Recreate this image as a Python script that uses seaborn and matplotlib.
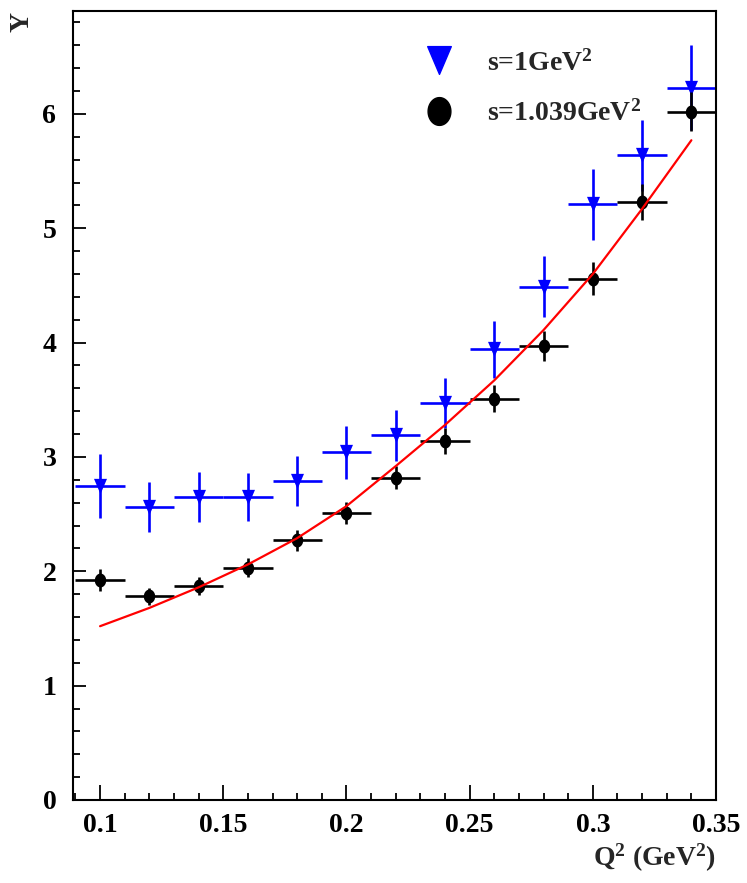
import numpy as np
import matplotlib
matplotlib.use("Agg")
import matplotlib.pyplot as plt
import seaborn as sns
from matplotlib.path import Path
from matplotlib.lines import Line2D
from matplotlib.ticker import MultipleLocator, FuncFormatter

# Q^2 bin centres (GeV^2); each bin is 0.02 wide
q2 = [0.10, 0.12, 0.14, 0.16, 0.18, 0.20, 0.22, 0.24, 0.26, 0.28, 0.30, 0.32, 0.34]
bin_half_width = 0.01

# s = 1 GeV^2
y_s1 = [2.75, 2.56, 2.65, 2.65, 2.79, 3.04, 3.19, 3.47, 3.94, 4.49, 5.21, 5.64, 6.23]
err_s1 = [0.28, 0.22, 0.22, 0.21, 0.215, 0.23, 0.225, 0.22, 0.25, 0.27, 0.31, 0.31, 0.37]

# s = 1.039 GeV^2
y_s2 = [1.925, 1.78, 1.87, 2.03, 2.27, 2.51, 2.82, 3.14, 3.51, 3.97, 4.56, 5.23, 6.02]
err_s2 = [0.093, 0.075, 0.08, 0.083, 0.09, 0.095, 0.10, 0.11, 0.12, 0.13, 0.146, 0.16, 0.17]

# fitted curve through the s = 1.039 GeV^2 data
fit_q2 = [0.10, 0.12, 0.14, 0.16, 0.18, 0.20, 0.22, 0.24, 0.26, 0.28, 0.30, 0.32, 0.34]
fit_y = [1.52, 1.68, 1.86, 2.06, 2.29, 2.57, 2.92, 3.28, 3.67, 4.11, 4.60, 5.17, 5.77]

labels = [r"s=1GeV$^{2}$", r"s=1.039GeV$^{2}$"]
x_ticks = [0.10, 0.15, 0.20, 0.25, 0.30, 0.35]
y_ticks = [0, 1, 2, 3, 4, 5, 6]

sns.set_theme(style="ticks")
plt.rcParams["font.family"] = ["Liberation Serif", "DejaVu Serif"]
plt.rcParams["font.weight"] = "bold"
plt.rcParams["mathtext.fontset"] = "custom"
plt.rcParams["mathtext.rm"] = "Liberation Serif:bold"
plt.rcParams["mathtext.it"] = "Liberation Serif:italic:bold"
plt.rcParams["mathtext.bf"] = "Liberation Serif:bold"

# slightly tall marker shapes
theta = np.linspace(0, 2 * np.pi, 64)
ellipse = Path(np.column_stack([0.82 * np.cos(theta), np.sin(theta)]), closed=True)
tri_down = Path([(-0.85, 1.0), (0.85, 1.0), (0.0, -1.0), (-0.85, 1.0)], closed=True)

FS = 20
fig = plt.figure(figsize=(7.47, 8.83), dpi=100)
ax = fig.add_axes([0.0977, 0.094, 0.8608, 0.8935])

ax.errorbar(q2, y_s1, xerr=bin_half_width, yerr=err_s1, fmt="none",
            ecolor="#0000ff", elinewidth=1.9, capsize=0, zorder=2)
sns.scatterplot(x=q2, y=y_s1, marker=tri_down, s=11 ** 2, color="#0000ff",
                edgecolor="#0000ff", linewidth=0, ax=ax, zorder=3, legend=False)

ax.errorbar(q2, y_s2, xerr=bin_half_width, yerr=err_s2, fmt="none",
            ecolor="black", elinewidth=1.9, capsize=0, zorder=4)
sns.scatterplot(x=q2, y=y_s2, marker=ellipse, s=10 ** 2, color="black",
                edgecolor="black", linewidth=0, ax=ax, zorder=5, legend=False)

sns.lineplot(x=fit_q2, y=fit_y, color="#ff0000", linewidth=1.6, ax=ax, zorder=6)

ax.set_xlim(0.089, 0.35)
ax.set_ylim(0, 6.9)
ax.set_xticks(x_ticks)
ax.set_yticks(y_ticks)
ax.xaxis.set_minor_locator(MultipleLocator(0.01))
ax.yaxis.set_minor_locator(MultipleLocator(0.2))
ax.xaxis.set_major_formatter(FuncFormatter(lambda v, p: f"{v:g}"))
ax.set_xlabel("")
ax.set_ylabel("")

for sp in ax.spines.values():
    sp.set_visible(True)
    sp.set_linewidth(1.5)
    sp.set_color("black")

ax.tick_params(axis="both", which="both", direction="in", top=False, right=False,
               colors="black", width=1.3)
ax.tick_params(axis="x", which="major", length=10.6, pad=9.5, labelsize=FS)
ax.tick_params(axis="x", which="minor", length=5.3)
ax.tick_params(axis="y", which="major", length=9.4, pad=12, labelsize=FS)
ax.tick_params(axis="y", which="minor", length=5)
for lab in ax.get_xticklabels() + ax.get_yticklabels():
    lab.set_fontweight("bold")

handles = [
    Line2D([], [], marker=tri_down, markersize=20, color="#0000ff", linestyle="none"),
    Line2D([], [], marker=ellipse, markersize=20, color="black", linestyle="none"),
]
ax.legend(handles, labels, loc="upper left", bbox_to_anchor=(0.547, 0.951),
          frameon=False, fontsize=FS, handlelength=1.0, handletextpad=1.25,
          labelspacing=0.85, borderpad=0, borderaxespad=0)

fig.text(22 / 747, 1 - 22 / 883, "Y", rotation=90, fontsize=FS, fontweight="bold",
         ha="center", va="center")
fig.text(716 / 747, 1 - 858 / 883, r"Q$^{2}$ (GeV$^{2}$)", fontsize=FS,
         fontweight="bold", ha="right", va="center")

fig.savefig("out.png", dpi=100)
